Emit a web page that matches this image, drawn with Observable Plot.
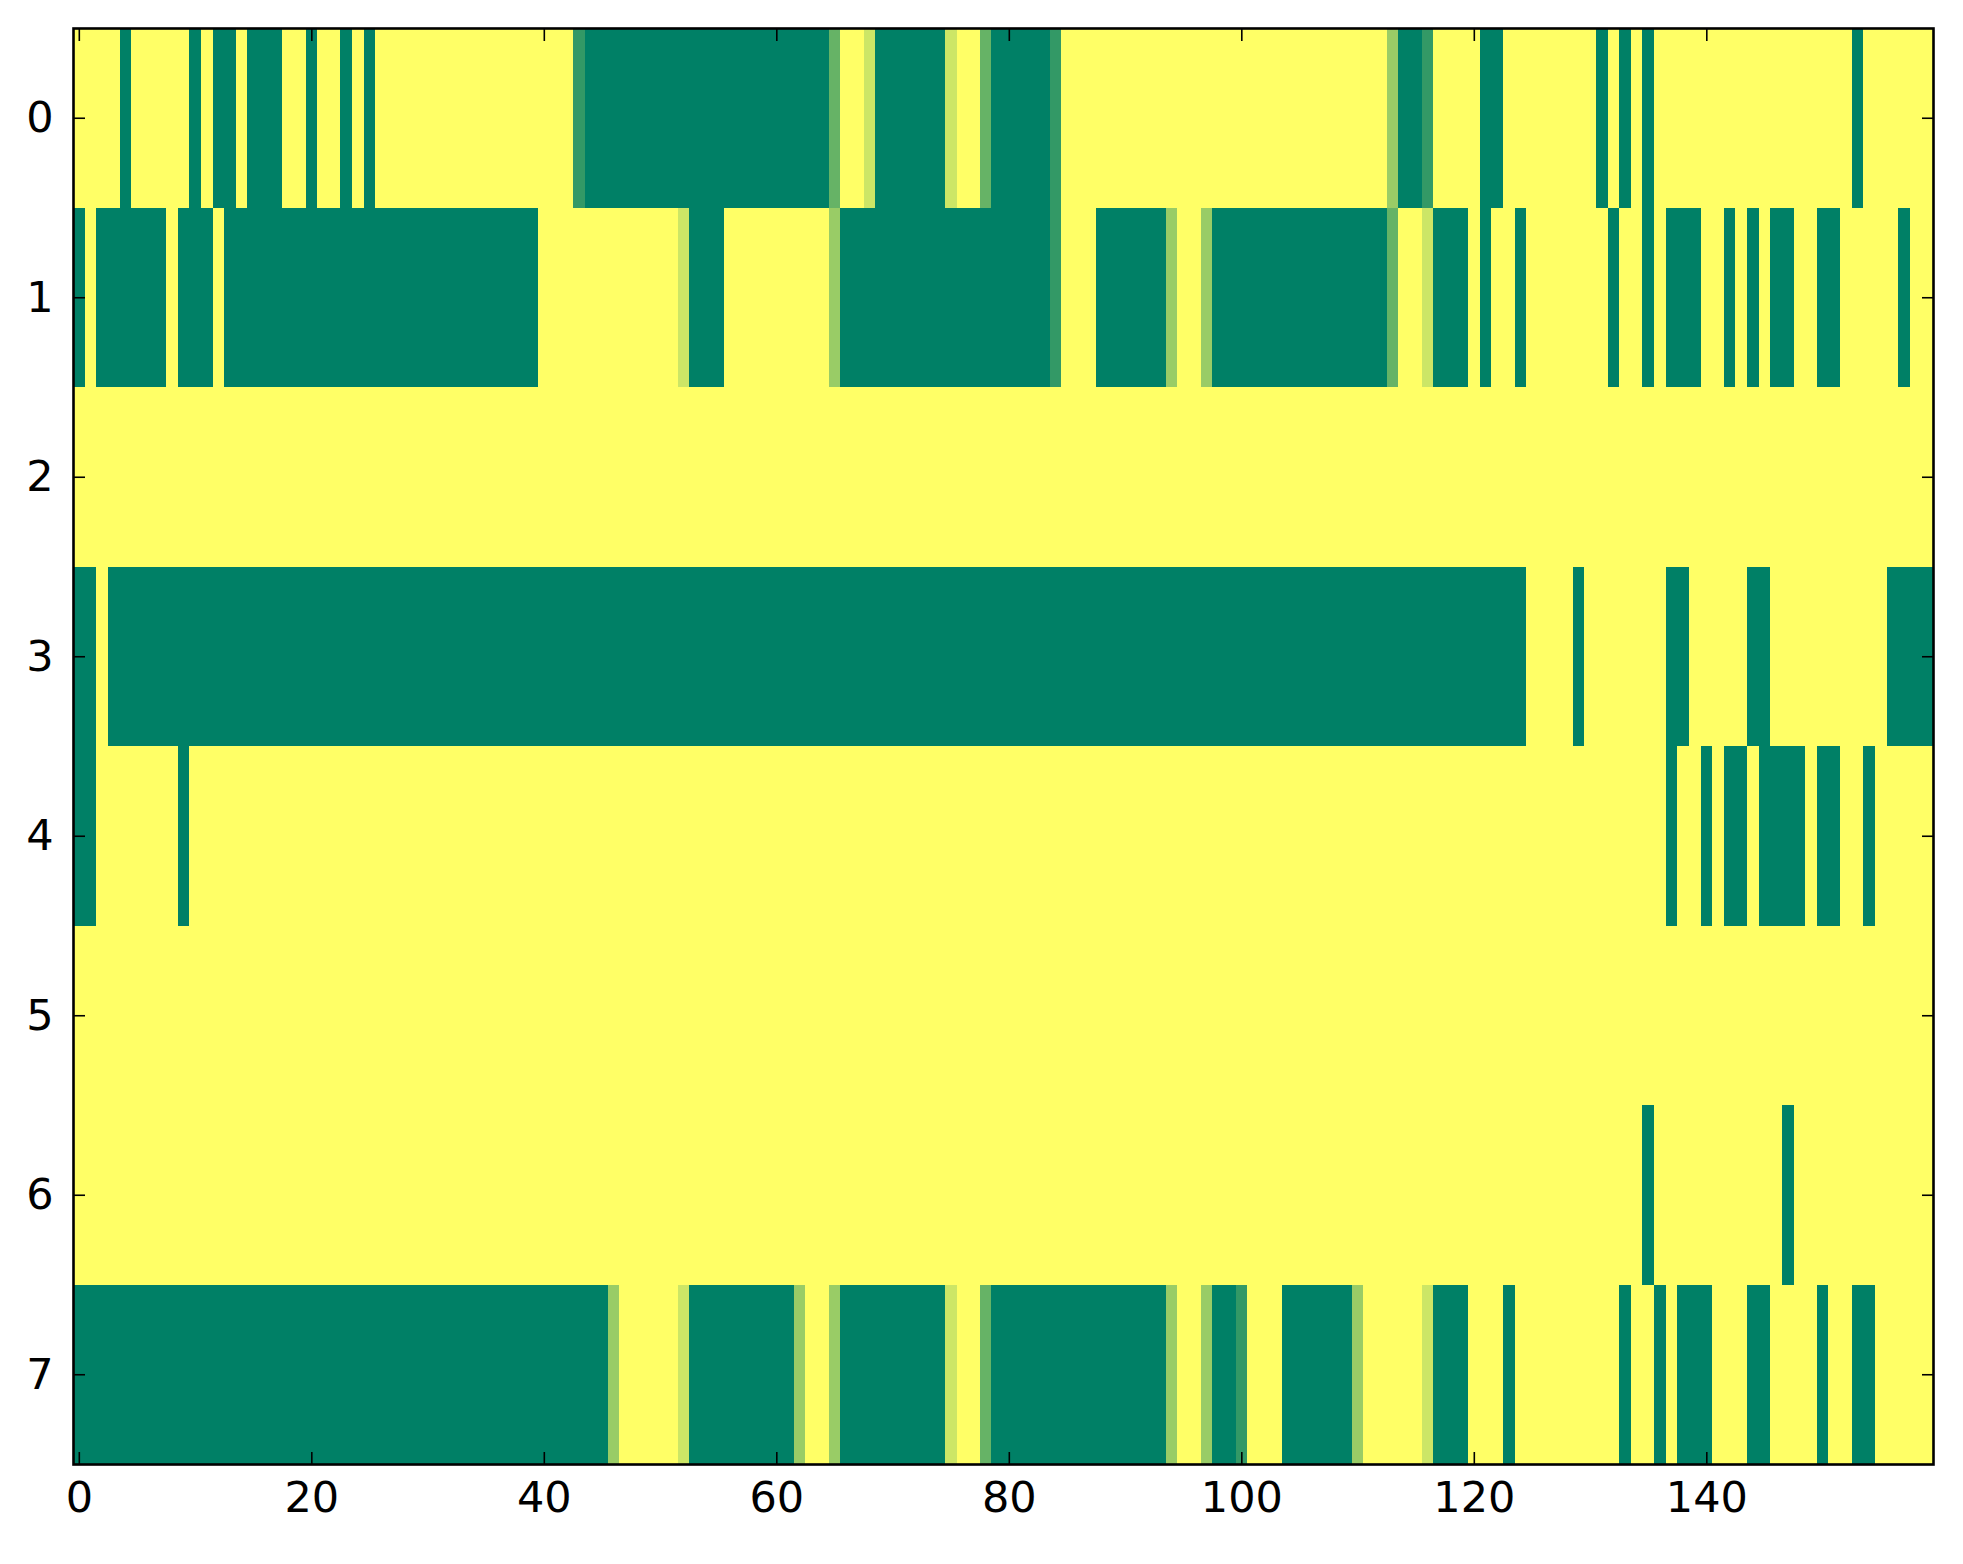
<!DOCTYPE html>
<html>
<head>
<meta charset="utf-8">
<script src="https://cdn.jsdelivr.net/npm/d3@7"></script>
<script src="https://cdn.jsdelivr.net/npm/@observablehq/plot@0.6"></script>
<style>
  html, body { margin: 0; padding: 0; background: #ffffff; }
  #chart svg { display: block; }
</style>
</head>
<body>
<div id="chart"></div>
<script>
// Cell values per row, in fifths (0 = 0.0 ... 5 = 1.0), ten columns per group, 160 columns.
const row0 = "0000500000 5055055500 5005050000 0000000000 0004555555 5555555555 5555530015 5555510035 5555400000 0000000000 0000000000 0002554000 0550000000 0505050000 0000000000 0005000000";
const row1 = "5055555505 5505555555 5555555555 5555555555 0000000000 0015550000 0000025555 5555555555 5555400055 5555200255 5555555555 5553001555 0500500000 0050050555 0050505500 5500000500";
const row2 = "0000000000 0000000000 0000000000 0000000000 0000000000 0000000000 0000000000 0000000000 0000000000 0000000000 0000000000 0000000000 0000000000 0000000000 0000000000 0000000000";
const row3 = "5505555555 5555555555 5555555555 5555555555 5555555555 5555555555 5555555555 5555555555 5555555555 5555555555 5555555555 5555555555 5555500005 0000000550 0000550000 0000005555";
const row4 = "5500000005 0000000000 0000000000 0000000000 0000000000 0000000000 0000000000 0000000000 0000000000 0000000000 0000000000 0000000000 0000000000 0000000500 5055055550 5500500000";
const row5 = "0000000000 0000000000 0000000000 0000000000 0000000000 0000000000 0000000000 0000000000 0000000000 0000000000 0000000000 0000000000 0000000000 0000000000 0000000000 0000000000";
const row6 = "0000000000 0000000000 0000000000 0000000000 0000000000 0000000000 0000000000 0000000000 0000000000 0000000000 0000000000 0000000000 0000000000 0000050000 0000000500 0000000000";
const row7 = "5555555555 5555555555 5555555555 5555555555 5555552000 0015555555 5520025555 5555510035 5555555555 5555200255 4000555555 2000001555 0005000000 0005005055 5000550000 5005500000";

const rows = [row0, row1, row2, row3, row4, row5, row6, row7];
const xTicks = [0, 20, 40, 60, 80, 100, 120, 140];
const yTicks = [0, 1, 2, 3, 4, 5, 6, 7];

const cells = [];
rows.forEach((r, i) => {
  r.replace(/\s+/g, "").split("").forEach((ch, j) => {
    cells.push({col: j, row: i, v: (+ch) / 5});
  });
});

const FONT = 43;
const fmt = d => String(d);
const chart = Plot.plot({
  width: 1963,
  height: 1564,
  marginLeft: 73,
  marginRight: 30,
  marginTop: 28,
  marginBottom: 100,
  style: {fontFamily: "'DejaVu Sans', sans-serif", background: "#ffffff", color: "#000"},
  x: {domain: [-0.5, 159.5]},
  y: {domain: [-0.5, 7.5], reverse: true},
  color: {type: "linear", domain: [0, 1], range: ["#ffff66", "#008066"], interpolate: "rgb"},
  marks: [
    Plot.rect(cells, {
      x1: d => d.col - 0.5, x2: d => d.col + 0.5,
      y1: d => d.row - 0.5, y2: d => d.row + 0.5,
      fill: "v", shapeRendering: "crispEdges"
    }),
    Plot.axisX(xTicks, {anchor: "bottom", tickSize: 0, tickPadding: 17, fontSize: FONT, label: null, tickFormat: fmt}),
    Plot.axisY(yTicks, {anchor: "left", tickSize: 0, tickPadding: 20, fontSize: FONT, label: null, tickFormat: fmt}),
    Plot.axisX(xTicks, {anchor: "bottom", tickSize: -12, text: null, label: null, strokeWidth: 1.6}),
    Plot.axisX(xTicks, {anchor: "top", tickSize: -12, text: null, label: null, strokeWidth: 1.6}),
    Plot.axisY(yTicks, {anchor: "left", tickSize: -12, text: null, label: null, strokeWidth: 1.6}),
    Plot.axisY(yTicks, {anchor: "right", tickSize: -12, text: null, label: null, strokeWidth: 1.6}),
    Plot.frame({stroke: "#000", strokeWidth: 2.6})
  ]
});
document.getElementById("chart").appendChild(chart);
</script>
</body>
</html>
